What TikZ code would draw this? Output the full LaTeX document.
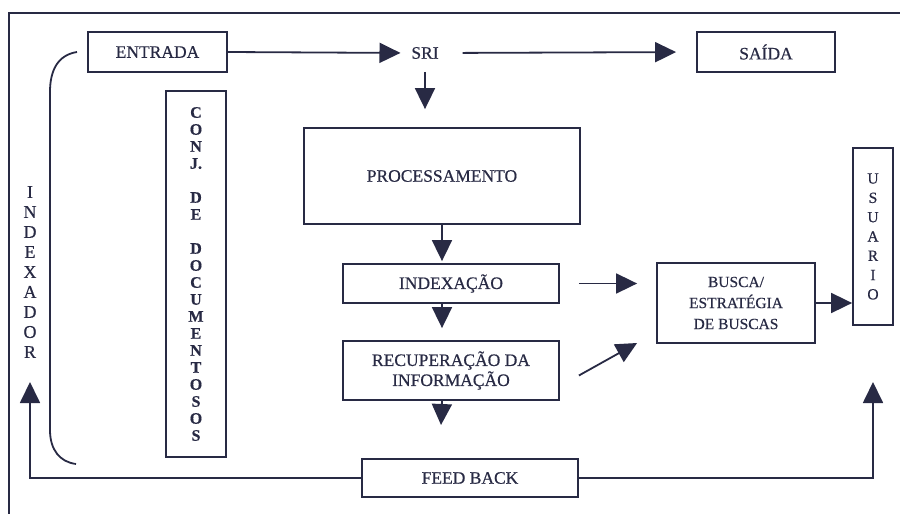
\documentclass[tikz,border=0pt]{standalone}
\usepackage{fontspec}
\setmainfont{Liberation Serif}[RawFeature={embolden=0.5}]
\usetikzlibrary{arrows.meta,calc}
\definecolor{ink}{RGB}{40,42,68}
\begin{document}
\begin{tikzpicture}[x=1pt,y=-1pt,
  line width=1.8pt, draw=ink, text=ink,
  box/.style={draw=ink, line width=1.8pt, rectangle, inner sep=0pt, align=center,
    font=\fontsize{17.5}{20}\selectfont},
  lbl/.style={inner sep=0pt, align=center, font=\fontsize{17.5}{20}\selectfont},
  arr/.style={draw=ink, line width=1.8pt, -{Triangle[length=21pt,width=20pt]}},
  ln/.style={draw=ink, line width=1.8pt}]
\useasboundingbox (0,0) rectangle (900,514);
% outer frame (partially visible)
\draw[ln] (900,13) -- (9,13) -- (9,514);
% nodes
\node[box, minimum width=139pt, minimum height=40pt] (entrada) at (157.5,52) {ENTRADA};
\node[lbl] (sri) at (425,53) {SRI};
\node[box, minimum width=138pt, minimum height=40pt] (saida) at (766,52) {SAÍDA};
\node[box, minimum width=276pt, minimum height=96pt] (proc) at (442,176) {PROCESSAMENTO};
\node[box, minimum width=216pt, minimum height=39pt] (idx) at (451,283.5) {INDEXAÇÃO};
\node[box, minimum width=216pt, minimum height=59pt] (recup) at (451,370.5) {RECUPERAÇÃO DA\\INFORMAÇÃO};
\node[box, minimum width=216pt, minimum height=38pt] (feed) at (470,478) {FEED BACK};
\node[box, minimum width=158pt, minimum height=80pt, font=\fontsize{15.5}{21}\selectfont] (busca) at (736,303) {BUSCA/\\ESTRATÉGIA\\DE BUSCAS};
\node[box, minimum width=40pt, minimum height=177pt, font=\fontsize{15.5}{19.3}\selectfont] (usu) at (873,236.5) {U\\S\\U\\A\\R\\I\\O};
\node[box, minimum width=60pt, minimum height=366pt, font=\bfseries\fontsize{16}{17}\selectfont] (conj) at (196,274)
  {C\\O\\N\\J.\\[17pt]D\\E\\[17pt]D\\O\\C\\U\\M\\E\\N\\T\\O\\S\\O\\S};
\node[lbl, font=\fontsize{18}{20}\selectfont] (indexador) at (30,272) {I\\N\\D\\E\\X\\A\\D\\O\\R};
% free ends
\coordinate (recdown) at (441,425);
\coordinate (fbL) at (30,478);
\coordinate (fbLtip) at (30,382);
\coordinate (fbR) at (873,478);
\coordinate (fbRtip) at (873,382);
% connectors
\draw[arr, shorten >=10pt] (entrada.east) -- (sri.west);
\draw[arr, shorten <=23pt, shorten >=20pt] (sri.east) -- (saida.west);
\draw[arr, shorten <=12pt, shorten >=18pt] (sri.south) -- (sri.south |- proc.north);
\draw[arr, shorten >=2pt] (proc.south) -- (proc.south |- idx.north);
\draw[arr, shorten >=12pt] (idx.south -| proc.south) -- (recup.north -| proc.south);
\draw[arr] (recup.south -| proc.south) -- (recdown);
\draw[arr, shorten <=19pt, shorten >=19pt] (idx.east) -- (idx.east -| busca.west);
\draw[arr] ($(recup.east)+(19,5)$) -- ($(busca.west)+(-19,40)$);
\draw[arr] (busca.east) -- (busca.east -| usu.west);
\draw[arr] (feed.west) -- (fbL) -- (fbLtip);
\draw[arr] (feed.east) -- (fbR) -- (fbRtip);
% bracket
\draw[ln] (77,52) .. controls (58,55) and (50,70) .. (50,92) -- (50,430) .. controls (50,450) and (60,462) .. (76,464);
\end{tikzpicture}
\end{document}
